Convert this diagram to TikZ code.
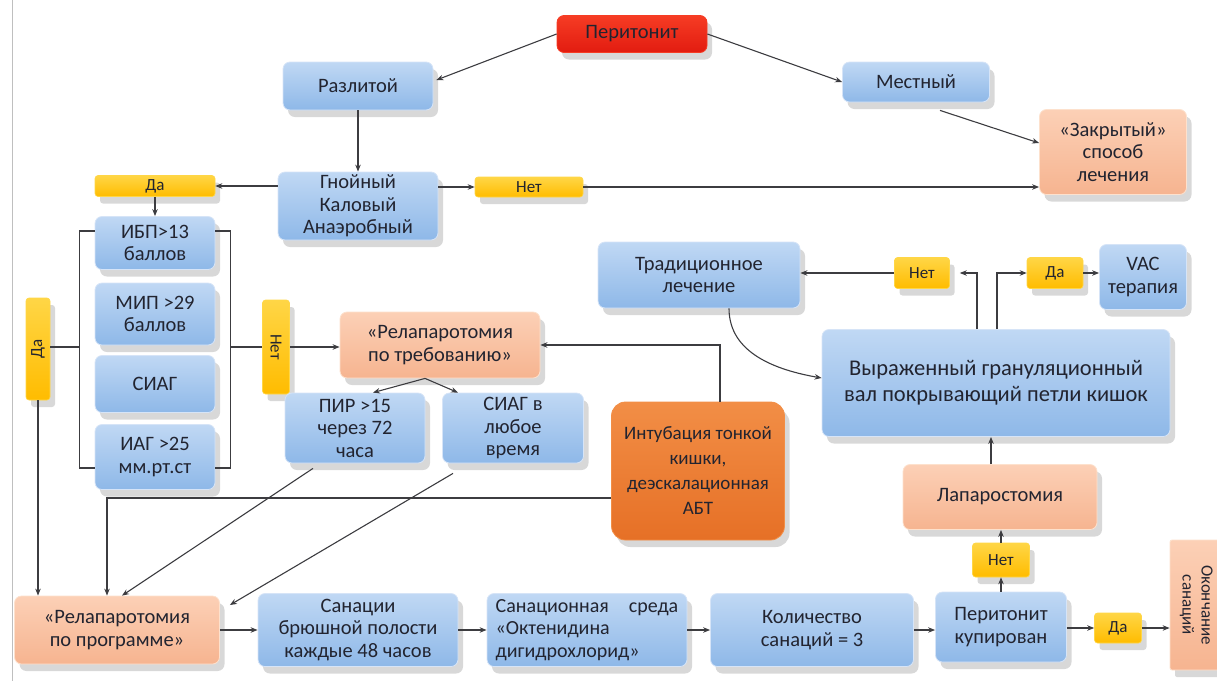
\documentclass[tikz,border=0pt]{standalone}
\usepackage{fontspec}
\setmainfont{Carlito}
\usetikzlibrary{arrows.meta,shadows,calc}
\definecolor{txt}{RGB}{34,36,48}
\definecolor{lnc}{RGB}{60,60,64}
\definecolor{bT}{RGB}{192,216,244}
\definecolor{bB}{RGB}{142,184,232}
\definecolor{bD}{RGB}{214,228,247}
\definecolor{pT}{RGB}{252,208,182}
\definecolor{pB}{RGB}{246,180,144}
\definecolor{pD}{RGB}{253,225,205}
\definecolor{rT}{RGB}{246,60,36}
\definecolor{rB}{RGB}{226,28,16}
\definecolor{oT}{RGB}{242,142,70}
\definecolor{oB}{RGB}{230,112,38}
\definecolor{yT}{RGB}{255,214,70}
\definecolor{yB}{RGB}{255,188,0}
\newcommand{\fsn}{\fontsize{20.5}{22.5}\selectfont}
\newcommand{\fsy}{\fontsize{17}{19}\selectfont}
\tikzset{
  box/.style={rounded corners=7pt, align=center, text=txt, inner sep=2pt, font=\fsn,
    drop shadow={shadow xshift=5pt, shadow yshift=-7pt, opacity=0.22, fill=black!70}},
  bbox/.style={box, top color=bT, bottom color=bB, draw=bD, line width=0.8pt},
  pbox/.style={box, top color=pT, bottom color=pB, draw=pD, line width=0.8pt},
  rbox/.style={box, top color=rT, bottom color=rB, draw=rT, line width=0.8pt},
  obox/.style={box, top color=oT, bottom color=oB, draw=oT, line width=0.8pt, rounded corners=14pt},
  ytag/.style={box, rounded corners=3pt, top color=yT, bottom color=yB, draw=yT, line width=0.6pt, font=\fsy},
  arr/.style={draw=lnc, line width=1.1pt, -{Stealth[length=7pt,width=5.5pt]}},
  ln/.style={draw=lnc, line width=1.1pt}
}
\begin{document}
\begin{tikzpicture}[x=1pt,y=-1pt]
\useasboundingbox (0,0) rectangle (1217,681);
\draw[black!25, line width=1pt] (12,0) -- (12,681);
% top
\node[rbox, minimum width=150, minimum height=37] (per) at (632,34) {Перитонит};
\node[bbox, minimum width=150, minimum height=48] (razl) at (358,86) {Разлитой};
\node[bbox, minimum width=147, minimum height=40] (mest) at (916,82) {Местный};
\node[pbox, minimum width=147, minimum height=85] (zakr) at (1113,152) {«Закрытый»\\способ\\лечения};
\node[bbox, minimum width=160, minimum height=68] (gnoi) at (358,206) {Гнойный\\Каловый\\Анаэробный};
\node[ytag, minimum width=108, minimum height=20] (net1) at (529,187) {Нет};
\node[ytag, minimum width=120, minimum height=21] (da1) at (155,186) {Да};
% left column
\node[bbox, minimum width=120, minimum height=53] (ibp) at (155,243) {ИБП>13\\баллов};
\node[bbox, minimum width=120, minimum height=62] (mip) at (155,314) {МИП >29\\баллов};
\node[bbox, minimum width=120, minimum height=57] (siag) at (155,384) {СИАГ};
\node[bbox, minimum width=120, minimum height=65] (iag) at (155,457) {ИАГ >25\\мм.рт.ст};
\node[ytag, minimum width=24, minimum height=102] (da2) at (38,349) {\rotatebox{90}{Да}};
\node[ytag, minimum width=27, minimum height=94] (net2) at (276,347) {\rotatebox{-90}{Нет}};
% middle
\node[pbox, minimum width=200, minimum height=66] (rtr) at (440,345) {«Релапаротомия\\по требованию»};
\node[bbox, minimum width=140, minimum height=70] (pir) at (355,428) {ПИР >15\\через 72\\часа};
\node[bbox, minimum width=141, minimum height=70] (siagv) at (513,428) {СИАГ в\\любое\\время};
\node[obox, minimum width=173, minimum height=138, font=\fontsize{19}{25}\selectfont] (intub) at (698,471) {Интубация тонкой\\кишки,\\деэскалационная\\АБТ};
% right
\node[bbox, minimum width=202, minimum height=66] (trad) at (699,275) {Традиционное\\лечение};
\node[ytag, minimum width=55, minimum height=31] (net3) at (922,273) {Нет};
\node[ytag, minimum width=56, minimum height=31] (da3) at (1055,273) {Да};
\node[bbox, minimum width=87, minimum height=65] (vac) at (1143,277) {VAC\\терапия};
\node[bbox, minimum width=348, minimum height=107, font=\fontsize{22.5}{26}\selectfont] (vyr) at (996,383) {Выраженный грануляционный\\вал покрывающий петли кишок};
\node[pbox, minimum width=194, minimum height=65] (lap) at (1000,497) {Лапаростомия};
\node[ytag, minimum width=57, minimum height=34] (net4) at (1001,560) {Нет};
\node[bbox, minimum width=131, minimum height=70] (pk) at (1001,627) {Перитонит\\купирован};
\node[ytag, minimum width=47, minimum height=30] (da4) at (1118,628) {Да};
\node[pbox, rounded corners=2pt, minimum width=52, minimum height=130, font=\fontsize{17}{19}\selectfont] (okon) at (1196,605) {\rotatebox{-90}{\begin{tabular}{@{}c@{}}Окончание\\санаций\end{tabular}}};
% bottom row
\node[pbox, minimum width=205, minimum height=68] (rpr) at (117,630) {«Релапаротомия\\по программе»};
\node[bbox, minimum width=200, minimum height=73] (san) at (358,630) {Санации\\брюшной полости\\каждые 48 часов};
\node[bbox, minimum width=200, minimum height=73, align=left, font=\fontsize{20}{22.5}\selectfont] (sred) at (587,630) {Санационная\hspace{20pt}среда\\«Октенидина\\дигидрохлорид»};
\node[bbox, minimum width=203, minimum height=73] (kol) at (812,630) {Количество\\санаций = 3};
% connectors
\draw[arr] (per.west) -- ([xshift=3,yshift=6]razl.east);
\draw[arr] (per.east) -- (mest.west);
\draw[arr] (razl.south) -- (razl.south |- gnoi.north);
\draw[arr] ([xshift=24,yshift=-8]mest.south) -- ([yshift=9]zakr.west);
\draw[arr] (gnoi.east |- net1.west) -- (net1.west);
\draw[arr] (net1.east) -- (net1.east -| zakr.west);
\draw[arr] (gnoi.west |- da1.east) -- (da1.east);
\draw[arr] (da1.south) -- (ibp.north);
\draw[ln] ([yshift=12]ibp.west) -- ++(-15,0) |- ([yshift=-11]iag.west);
\draw[ln] ([yshift=12]ibp.east) -- ++(15,0) |- ([yshift=-11]iag.east);
\coordinate (bl) at (80,347);
\coordinate (br) at (230,347);
\draw[ln] (da2.east |- bl) -- (bl);
\draw[ln] (br) -- (br -| net2.west);
\draw[arr] (net2.east) -- (net2.east -| rtr.west);
\draw[arr] ([xshift=-15]rtr.south) -- ([xshift=18]pir.north);
\draw[arr] ([xshift=-15]rtr.south) -- ([xshift=-55]siagv.north);
\draw[arr] ([xshift=22]intub.north) |- (rtr.east);
\draw[arr] ([yshift=-27]intub.west) -| ([xshift=-10]rpr.north);
\draw[arr] (da2.south) -- (da2.south |- rpr.north);
\draw[arr] ([xshift=-42,yshift=-5]pir.south) -- ([xshift=5]rpr.north);
\draw[arr] ([xshift=-60,yshift=-10]siagv.south) -- ([xshift=10,yshift=25]rpr.east);
\draw[arr] (rpr.east) -- (san.west);
\draw[arr] (san.east) -- (sred.west);
\draw[arr] (sred.east) -- (kol.west);
\draw[arr] (kol.east) -- (kol.east -| pk.west);
\draw[arr] (pk.east |- da4.west) -- (da4.west);
\draw[arr] (da4.east) -- (da4.east -| okon.west);
\draw[arr] (pk.north) -- (net4.south);
\draw[arr] (net4.north) -- (net4.north |- lap.south);
\draw[arr] ([xshift=-9]lap.north) -- ([xshift=-9]lap.north |- vyr.south);
\draw[arr] ([xshift=-19]vyr.north) |- ([xshift=10]net3.east);
\draw[arr] ([xshift=1]vyr.north) |- (da3.west);
\draw[arr] (net3.west) -- (net3.west -| trad.east);
\draw[arr] (da3.east) -- (da3.east -| vac.west);
\draw[arr] ([xshift=30]trad.south) to[out=-90,in=170] ([yshift=5]vyr.west);
\end{tikzpicture}
\end{document}
